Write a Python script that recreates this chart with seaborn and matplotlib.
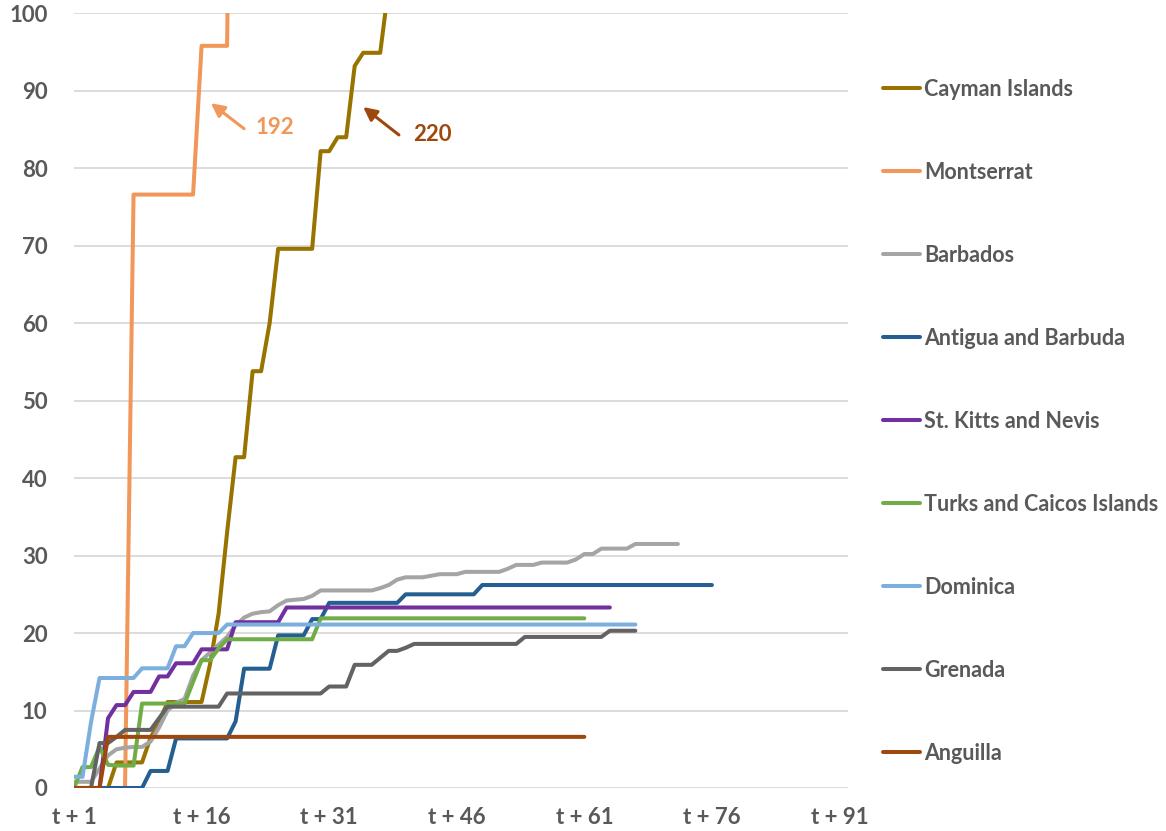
import matplotlib
matplotlib.use("Agg")
import matplotlib.pyplot as plt
import seaborn as sns
import pandas as pd

# values (one value per day, from t + 1)
countries = ["Cayman Islands", "Montserrat", "Barbados", "Antigua and Barbuda",
             "St. Kitts and Nevis", "Turks and Caicos Islands", "Dominica",
             "Grenada", "Anguilla"]
colors = ["#997300", "#F1975A", "#A5A5A5", "#255E91", "#7030A0",
          "#70AD47", "#7CAFDD", "#636363", "#9E480E"]

cayman = [0, 0, 0, 0, 0, 3.3, 3.3, 3.3, 3.3, 6.5, 8.5, 11.1, 11.1, 11.1, 11.1, 11.1,
          16, 22.5, 33, 42.7, 42.7, 53.8, 53.8, 60, 69.6, 69.6, 69.6, 69.6, 69.6,
          82.2, 82.2, 84, 84, 93.2, 94.9, 94.9, 94.9, 103.5]
montserrat = [0, 0, 0, 0, 0, 0, 0, 76.6, 76.6, 76.6, 76.6, 76.6, 76.6, 76.6, 76.6,
              95.8, 95.8, 95.8, 95.8, 192]
barbados = [0.8, 0.8, 0.8, 2.5, 4.2, 5.0, 5.2, 5.3, 5.3, 6.0, 7.8, 10.0, 11.0, 11.5,
            14.5, 16.5, 17.5, 18.5, 19.5, 21.0, 22.0, 22.5, 22.7, 22.8, 23.6, 24.2,
            24.3, 24.4, 24.8, 25.5, 25.5, 25.5, 25.5, 25.5, 25.5, 25.5, 25.8, 26.2,
            26.9, 27.2, 27.2, 27.2, 27.4, 27.6, 27.6, 27.6, 27.9, 27.9, 27.9, 27.9,
            27.9, 28.3, 28.8, 28.8, 28.8, 29.1, 29.1, 29.1, 29.1, 29.5, 30.2, 30.2,
            30.9, 30.9, 30.9, 30.9, 31.5, 31.5, 31.5, 31.5, 31.5, 31.5]
antigua = [0, 0, 0, 0, 0, 0, 0, 0, 0, 2.2, 2.2, 2.2, 6.4, 6.4, 6.4, 6.4, 6.4, 6.4, 6.4,
           8.6, 15.4, 15.4, 15.4, 15.4, 19.7, 19.7, 19.7, 19.7, 21.8, 21.8,
           23.9, 23.9, 23.9, 23.9, 23.9, 23.9, 23.9, 23.9, 23.9,
           25.0, 25.0, 25.0, 25.0, 25.0, 25.0, 25.0, 25.0, 25.0,
           26.2, 26.2, 26.2, 26.2, 26.2, 26.2, 26.2, 26.2, 26.2, 26.2, 26.2, 26.2,
           26.2, 26.2, 26.2, 26.2, 26.2, 26.2, 26.2, 26.2, 26.2, 26.2, 26.2, 26.2,
           26.2, 26.2, 26.2, 26.2]
st_kitts = [0, 0, 0, 0, 9.0, 10.7, 10.7, 12.4, 12.4, 12.4, 14.4, 14.4, 16.1, 16.1, 16.1,
            17.9, 17.9, 17.9, 17.9, 21.4, 21.4, 21.4, 21.4, 21.4, 21.4,
            23.3, 23.3, 23.3, 23.3, 23.3, 23.3, 23.3, 23.3, 23.3, 23.3, 23.3, 23.3, 23.3,
            23.3, 23.3, 23.3, 23.3, 23.3, 23.3, 23.3, 23.3, 23.3, 23.3, 23.3, 23.3, 23.3,
            23.3, 23.3, 23.3, 23.3, 23.3, 23.3, 23.3, 23.3, 23.3, 23.3, 23.3, 23.3, 23.3]
turks = [0, 2.7, 2.7, 5.3, 3.0, 2.9, 2.9, 2.9, 10.9, 10.9, 10.9, 10.9, 10.9, 10.9,
         13.7, 16.5, 16.5, 18.0, 19.2, 19.2, 19.2, 19.2, 19.2, 19.2, 19.2, 19.2, 19.2,
         19.2, 19.2, 21.9, 21.9, 21.9, 21.9, 21.9, 21.9, 21.9, 21.9, 21.9, 21.9, 21.9,
         21.9, 21.9, 21.9, 21.9, 21.9, 21.9, 21.9, 21.9, 21.9, 21.9, 21.9, 21.9, 21.9,
         21.9, 21.9, 21.9, 21.9, 21.9, 21.9, 21.9, 21.9]
dominica = [1.45, 1.45, 8.5, 14.2, 14.2, 14.2, 14.2, 14.2, 15.45, 15.45, 15.45, 15.45,
            18.3, 18.3, 20.0, 20.0, 20.0, 20.0, 21.1, 21.1, 21.1, 21.1, 21.1, 21.1,
            21.1, 21.1, 21.1, 21.1, 21.1, 21.1, 21.1, 21.1, 21.1, 21.1, 21.1, 21.1,
            21.1, 21.1, 21.1, 21.1, 21.1, 21.1, 21.1, 21.1, 21.1, 21.1, 21.1, 21.1,
            21.1, 21.1, 21.1, 21.1, 21.1, 21.1, 21.1, 21.1, 21.1, 21.1, 21.1, 21.1,
            21.1, 21.1, 21.1, 21.1, 21.1, 21.1, 21.1]
grenada = [0, 0, 0, 5.8, 5.8, 6.6, 7.5, 7.5, 7.5, 7.5, 9.0, 10.5, 10.5, 10.5, 10.5,
           10.5, 10.5, 10.5, 12.2, 12.2, 12.2, 12.2, 12.2, 12.2, 12.2, 12.2, 12.2,
           12.2, 12.2, 12.2, 13.1, 13.1, 13.1, 15.9, 15.9, 15.9, 16.8, 17.7, 17.7,
           18.1, 18.6, 18.6, 18.6, 18.6, 18.6, 18.6, 18.6, 18.6, 18.6, 18.6, 18.6,
           18.6, 18.6, 19.5, 19.5, 19.5, 19.5, 19.5, 19.5, 19.5, 19.5, 19.5, 19.5,
           20.3, 20.3, 20.3, 20.3]
anguilla = [0, 0, 0, 0, 6.6, 6.6, 6.6, 6.6, 6.6, 6.6, 6.6, 6.6, 6.6, 6.6, 6.6, 6.6,
            6.6, 6.6, 6.6, 6.6, 6.6, 6.6, 6.6, 6.6, 6.6, 6.6, 6.6, 6.6, 6.6, 6.6,
            6.6, 6.6, 6.6, 6.6, 6.6, 6.6, 6.6, 6.6, 6.6, 6.6, 6.6, 6.6, 6.6, 6.6,
            6.6, 6.6, 6.6, 6.6, 6.6, 6.6, 6.6, 6.6, 6.6, 6.6, 6.6, 6.6, 6.6, 6.6,
            6.6, 6.6, 6.6]

series = [cayman, montserrat, barbados, antigua, st_kitts, turks, dominica, grenada, anguilla]

xtick_days = [1, 16, 31, 46, 61, 76, 91]
xtick_labels = ["t + 1", "t + 16", "t + 31", "t + 46", "t + 61", "t + 76", "t + 91"]

# off-scale peaks written on the chart
peak_montserrat = "192"
peak_cayman = "220"

rows = []
for name, vals in zip(countries, series):
    for i, v in enumerate(vals):
        rows.append({"day": i + 1, "value": v, "country": name})
df = pd.DataFrame(rows)

sns.set_style("white")
plt.rcParams["font.family"] = ["Lato", "DejaVu Sans"]
text_grey = "#595959"

fig = plt.figure(figsize=(11.66, 8.31), dpi=100)
ax = fig.add_axes([74 / 1166, 1 - 788 / 831, (848 - 74) / 1166, (788 - 13.3) / 831])

sns.lineplot(data=df, x="day", y="value", hue="country", hue_order=countries,
             palette=colors, linewidth=2.9, estimator=None, sort=False,
             legend=False, ax=ax)
for ln in ax.lines:
    ln.set_solid_capstyle("round")
    ln.set_solid_joinstyle("round")

ax.set_xlim(1, 92)
ax.set_ylim(0, 100)
ax.set_yticks(range(0, 101, 10))
ax.set_xticks(xtick_days)
ax.set_xticklabels(xtick_labels)
ax.yaxis.grid(True, color="#D9D9D9", linewidth=1.3)
ax.set_axisbelow(True)
for s in ax.spines.values():
    s.set_visible(False)
ax.set_xlabel("")
ax.set_ylabel("")
ax.tick_params(axis="both", length=0, labelsize=16, labelcolor=text_grey)
ax.tick_params(axis="y", pad=19)
ax.tick_params(axis="x", pad=14)
for lab in ax.get_xticklabels() + ax.get_yticklabels():
    lab.set_fontweight("bold")

# arrows pointing at the off-scale lines
ax.annotate("", xy=(17.1, 88.4), xytext=(21.0, 85.1),
            arrowprops=dict(arrowstyle="-|>,head_length=0.8,head_width=0.4",
                            color="#F1975A", lw=2.2, shrinkA=0, shrinkB=0))
ax.text(24.6, 85.2, peak_montserrat, color="#F1975A", fontsize=16,
        fontweight="bold", ha="center", va="center")
ax.annotate("", xy=(35.0, 87.9), xytext=(39.2, 84.3),
            arrowprops=dict(arrowstyle="-|>,head_length=0.8,head_width=0.4",
                            color="#9E480E", lw=2.2, shrinkA=0, shrinkB=0))
ax.text(43.1, 84.4, peak_cayman, color="#9E480E", fontsize=16,
        fontweight="bold", ha="center", va="center")

leg = ax.legend(ax.lines[:len(countries)], countries, loc="upper left",
                bbox_to_anchor=(883 / 1166, 1 - 79 / 831),
                bbox_transform=fig.transFigure, frameon=False,
                labelspacing=2.88, handlelength=1.7, handletextpad=0.2,
                borderpad=0, borderaxespad=0,
                prop={"size": 15.5, "weight": "bold"})
for t in leg.get_texts():
    t.set_color(text_grey)

fig.savefig("out.png", dpi=100)
